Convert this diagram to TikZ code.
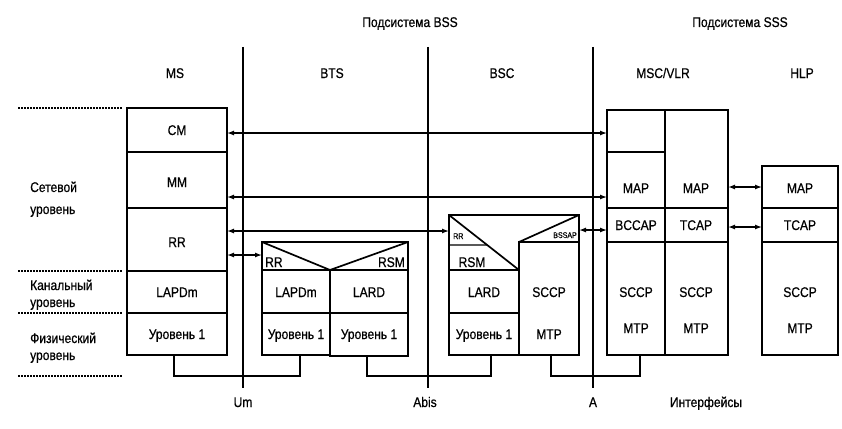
\documentclass[tikz,border=0pt]{standalone}
\usepackage{fontspec}
\setmainfont{Liberation Sans}[FakeStretch=0.86,FakeBold=0.6]
\usetikzlibrary{arrows.meta,fit,calc}
\newcommand\fs{\fontsize{14}{16}\selectfont}
\newcommand\fsm{\fontsize{8.2}{9}\selectfont}
\newcommand\cellnode[5]{\coordinate (#1-a) at (#2,#3); \coordinate (#1-b) at (#4,#5); \node[cellbox, fit=(#1-a)(#1-b)] (#1) {};}
\begin{document}
\begin{tikzpicture}[x=1pt,y=-1pt,
  cellbox/.style={draw, line width=1.7pt, inner sep=0pt, outer sep=0pt},
  cellline/.style={line width=1.7pt, line join=miter},
  thinline/.style={line width=1.2pt},
  lbl/.style={font=\fs, inner sep=0pt, anchor=base, yshift=-5pt},
  lblw/.style={font=\fs, inner sep=0pt, anchor=base west},
  lble/.style={font=\fs, inner sep=0pt, anchor=base east},
  slblw/.style={font=\fsm, inner sep=0pt, anchor=base west},
  slble/.style={font=\fsm, inner sep=0pt, anchor=base east},
  biarrow/.style={line width=1.3pt, {Latex[length=7pt,width=5pt]}-{Latex[length=7pt,width=5pt]}},
  wire/.style={line width=1.7pt, line join=miter},
  iface/.style={line width=2pt},
  level/.style={line width=1.3pt, dash pattern=on 2pt off 1pt}]
\fill[white] (0,0) rectangle (842,428);
\useasboundingbox (0,0) rectangle (842,428);

% titles
\node[lbl] (bss) at (410,22) {Подсистема BSS};
\node[lbl] (sss) at (740,22) {Подсистема SSS};
\node[lbl] (hms) at (175,73) {MS};
\node[lbl] (hbts) at (332,73) {BTS};
\node[lbl] (hbsc) at (502,73) {BSC};
\node[lbl] (hmsc) at (663,73) {MSC/VLR};
\node[lbl] (hhlp) at (802,73) {HLP};

% level separators and labels
\coordinate (d1a) at (18,108); \coordinate (d1b) at (122,108);
\coordinate (d2a) at (18,271); \coordinate (d2b) at (122,271);
\coordinate (d3a) at (18,313); \coordinate (d3b) at (122,313);
\coordinate (d4a) at (18,376); \coordinate (d4b) at (122,376);
\draw[level] (d1a) -- (d1b);
\draw[level] (d2a) -- (d2b);
\draw[level] (d3a) -- (d3b);
\draw[level] (d4a) -- (d4b);
\node[lblw] (l1a) at (30,192) {Сетевой};
\node[lblw] (l1b) at (30,214) {уровень};
\node[lblw] (l2a) at (30,290) {Канальный};
\node[lblw] (l2b) at (30,307) {уровень};
\node[lblw] (l3a) at (30,343) {Физический};
\node[lblw] (l3b) at (30,360) {уровень};

% interfaces
\node[lbl] (um) at (243,402) {Um};
\node[lbl] (abis) at (425,402) {Abis};
\node[lbl] (aif) at (593,402) {A};
\node[lbl] (ifs) at (706,402) {Интерфейсы};
\coordinate (umT) at (243,47); \coordinate (umB) at (243,388);
\coordinate (abT) at (428,47); \coordinate (abB) at (428,388);
\coordinate (aT) at (593,47); \coordinate (aB) at (593,388);
\draw[iface] (umT) -- (umB);
\draw[iface] (abT) -- (abB);
\draw[iface] (aT) -- (aB);

% MS
\cellnode{msCM}{127}{108}{227}{152}
\cellnode{msMM}{127}{152}{227}{208}
\cellnode{msRR}{127}{208}{227}{271}
\cellnode{msLAP}{127}{271}{227}{313}
\cellnode{msL1}{127}{313}{227}{355}
\node[lbl] (tmsCM) at (177,130) {CM};
\node[lbl] (tmsMM) at (177,182) {MM};
\node[lbl] (tmsRR) at (177,242) {RR};
\node[lbl] (tmsLAP) at (177,292) {LAPDm};
\node[lbl] (tmsL1) at (177,334) {Уровень 1};

% BTS
\cellnode{btsHead}{262}{242}{408}{270}
\cellnode{btsLAP}{262}{270}{330}{313}
\cellnode{btsL1}{262}{313}{330}{355}
\cellnode{btsLARD}{330}{270}{408}{313}
\cellnode{btsL1b}{330}{313}{408}{356}
\draw[cellline] (btsHead.north west) -- (btsLAP.north east) -- (btsHead.north east);
\node[lblw] (tbtsRR) at (265,267) {RR};
\node[lble] (tbtsRSM) at (405,267) {RSM};
\node[lbl] (tbtsLAP) at (296,292) {LAPDm};
\node[lbl] (tbtsL1) at (296,334) {Уровень 1};
\node[lbl] (tbtsLARD) at (369,292) {LARD};
\node[lbl] (tbtsL1b) at (369,334) {Уровень 1};

% BSC
\coordinate (bscTL) at (449,215);
\coordinate (bscTR) at (579,215);
\cellnode{bscLARD}{449}{270}{519}{313}
\cellnode{bscL1}{449}{313}{519}{355}
\cellnode{bscSCCP}{519}{242}{579}{355}
\draw[cellline] (bscLARD.north west) -- (bscTL) -- (bscTR) -- (bscSCCP.north east);
\draw[cellline] (bscTL) -- (bscLARD.north east);
\draw[cellline] (bscSCCP.north west) -- (bscTR);
\draw[thinline] ([yshift=-30pt]bscTL) -- ($(bscTL)!0.545!(bscLARD.north east)$);
\node[slblw] (tbscRR) at (453,239) {RR};
\node[slble] (tbscBSSAP) at (577,238) {BSSAP};
\node[lbl] (tbscRSM) at (472,262) {RSM};
\node[lbl] (tbscLARD) at (484,292) {LARD};
\node[lbl] (tbscL1) at (484,334) {Уровень 1};
\node[lbl] (tbscSCCP) at (549,292) {SCCP};
\node[lbl] (tbscMTP) at (549,334) {MTP};

% MSC/VLR
\cellnode{mscA1}{607}{110}{665}{152}
\cellnode{mscMAP1}{607}{152}{665}{208}
\cellnode{mscMAP2}{665}{110}{728}{208}
\cellnode{mscBCCAP}{607}{208}{665}{242}
\cellnode{mscTCAP}{665}{208}{728}{242}
\cellnode{mscS1}{607}{242}{665}{355}
\cellnode{mscS2}{665}{242}{728}{355}
\node[lbl] (tmscMAP1) at (636,188) {MAP};
\node[lbl] (tmscMAP2) at (696,188) {MAP};
\node[lbl] (tmscBCCAP) at (636,225) {BCCAP};
\node[lbl] (tmscTCAP) at (696,225) {TCAP};
\node[lbl] (tmscSCCP1) at (636,292) {SCCP};
\node[lbl] (tmscMTP1) at (636,328) {MTP};
\node[lbl] (tmscSCCP2) at (696,292) {SCCP};
\node[lbl] (tmscMTP2) at (696,328) {MTP};

% HLP
\cellnode{hlpMAP}{762}{166}{838}{208}
\cellnode{hlpTCAP}{762}{208}{838}{242}
\cellnode{hlpS}{762}{242}{838}{355}
\node[lbl] (thlpMAP) at (800,188) {MAP};
\node[lbl] (thlpTCAP) at (800,225) {TCAP};
\node[lbl] (thlpSCCP) at (800,292) {SCCP};
\node[lbl] (thlpMTP) at (800,328) {MTP};

% peer arrows
\draw[biarrow] ([yshift=-3pt]msCM.east) -- ([yshift=-3pt]msCM.east -| mscA1.west);
\draw[biarrow] ([yshift=-17pt]msMM.east) -- ([yshift=-17pt]msMM.east -| mscMAP1.west);
\draw[biarrow] ([yshift=8.5pt]msRR.east) -- ([yshift=8.5pt]msRR.east -| bscLARD.west);
\draw[biarrow] ([yshift=-15.5pt]msRR.east) -- ([yshift=-15.5pt]msRR.east -| btsHead.west);
\draw[biarrow] ([yshift=-5pt]mscBCCAP.west) -- ([yshift=-5pt]mscBCCAP.west -| bscSCCP.east);
\draw[biarrow] (hlpMAP.west) -- (hlpMAP.west -| mscMAP2.east);
\draw[biarrow] ([yshift=-2pt]hlpTCAP.west) -- ([yshift=-2pt]hlpTCAP.west -| mscTCAP.east);

% physical links
\draw[wire] ([xshift=-3pt]msL1.south) -- ++(0,21) -| ([xshift=4pt]btsL1.south);
\draw[wire] ([xshift=-2pt]btsL1b.south) -- ++(0,20) -| ([xshift=7pt]bscL1.south);
\draw[wire] ([xshift=2pt]bscSCCP.south) -- ++(0,21) -| ([xshift=4pt]mscS1.south);
\end{tikzpicture}
\end{document}
